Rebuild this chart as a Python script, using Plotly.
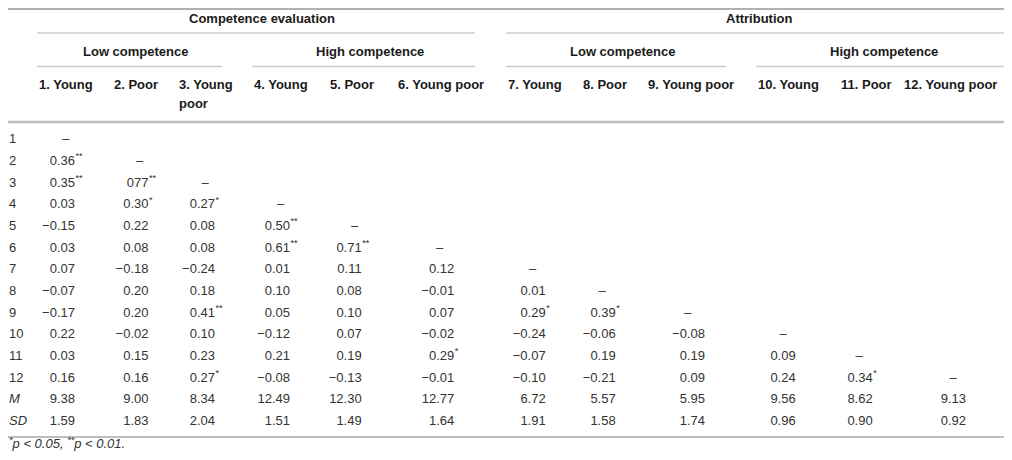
import plotly.graph_objects as go

# table content
row_labels = ["1", "2", "3", "4", "5", "6", "7", "8", "9", "10", "11", "12", "<i>M</i>", "<i>SD</i>"]

col_headers = ["1. Young", "2. Poor", "3. Young\npoor", "4. Young", "5. Poor", "6. Young poor",
               "7. Young", "8. Poor", "9. Young poor", "10. Young", "11. Poor", "12. Young poor"]

groups = ["Competence evaluation", "Attribution"]
subgroups = ["Low competence", "High competence", "Low competence", "High competence"]

corr = [
    ["–"],
    ["0.36**", "–"],
    ["0.35**", "077**", "–"],
    ["0.03", "0.30*", "0.27*", "–"],
    ["−0.15", "0.22", "0.08", "0.50**", "–"],
    ["0.03", "0.08", "0.08", "0.61**", "0.71**", "–"],
    ["0.07", "−0.18", "−0.24", "0.01", "0.11", "0.12", "–"],
    ["−0.07", "0.20", "0.18", "0.10", "0.08", "−0.01", "0.01", "–"],
    ["−0.17", "0.20", "0.41**", "0.05", "0.10", "0.07", "0.29*", "0.39*", "–"],
    ["0.22", "−0.02", "0.10", "−0.12", "0.07", "−0.02", "−0.24", "−0.06", "−0.08", "–"],
    ["0.03", "0.15", "0.23", "0.21", "0.19", "0.29*", "−0.07", "0.19", "0.19", "0.09", "–"],
    ["0.16", "0.16", "0.27*", "−0.08", "−0.13", "−0.01", "−0.10", "−0.21", "0.09", "0.24", "0.34*", "–"],
]
means = ["9.38", "9.00", "8.34", "12.49", "12.30", "12.77", "6.72", "5.57", "5.95", "9.56", "8.62", "9.13"]
sds = ["1.59", "1.83", "2.04", "1.51", "1.49", "1.64", "1.91", "1.58", "1.74", "0.96", "0.90", "0.92"]

footnote = "<i><sup>*</sup>p < 0.05, <sup>**</sup>p < 0.01.</i>"

# layout, in page pixels (page body has an 8px margin, so the figure
# covers 8..1004 x 8..452 and the axes are set so 1 unit = 1 page px)
PAD = 8
W, H = 1012, 460
X0, X1 = PAD, W - PAD
Y0, Y1 = PAD, H - PAD
col_right = [75, 148.5, 215, 290, 361.7, 454.3, 545.7, 615.7, 705, 795.7, 872.7, 966]
col_dash = [65.8, 139.5, 205, 280.5, 354.5, 439.5, 532.7, 602.2, 687.7, 783, 859.2, 953]
col_left = [36.7, 111.7, 176.7, 251.7, 328.3, 395.7, 506, 580.7, 645.7, 756, 839, 902]
group_x = [262, 759]
sub_x = [135, 370, 622, 884]
row_top, row_h = 140, 21.67
txt = "#333333"
FONT = "Liberation Sans"
FS = 13

rows = corr + [means, sds]

num_x, num_y, num_t = [], [], []
star_x, star_y, star_t = [], [], []
dash_x, dash_y = [], []
for i, row in enumerate(rows):
    y = row_top + i * row_h
    for j, cell in enumerate(row):
        if cell == "–":
            dash_x.append(col_dash[j])
            dash_y.append(y)
            continue
        val = cell.rstrip("*")
        stars = cell[len(val):]
        num_x.append(col_right[j])
        num_y.append(y)
        num_t.append(val)
        if stars:
            star_x.append(col_right[j] + 0.5)
            star_y.append(y)
            star_t.append("<sup>" + stars + "</sup>")

body = dict(family=FONT, size=FS, color=txt)

fig = go.Figure()
fig.add_trace(go.Scatter(x=[X0 + 1] * len(row_labels), y=[row_top + i * row_h for i in range(len(row_labels))],
                         text=row_labels, mode="text", textposition="middle right",
                         textfont=body, cliponaxis=False))
fig.add_trace(go.Scatter(x=num_x, y=num_y, text=num_t, mode="text", textposition="middle left",
                         textfont=body, cliponaxis=False))
fig.add_trace(go.Scatter(x=star_x, y=star_y, text=star_t, mode="text", textposition="middle right",
                         textfont=body, cliponaxis=False))
fig.add_trace(go.Scatter(x=dash_x, y=dash_y, text=["–"] * len(dash_x), mode="text",
                         textposition="middle center", textfont=body, cliponaxis=False))

bold = dict(family=FONT, size=FS, color="#1a1a1a")
for name, x in zip(groups, group_x):
    fig.add_annotation(x=x, y=18, text="<b>" + name + "</b>", showarrow=False, font=bold)
for name, x in zip(subgroups, sub_x):
    fig.add_annotation(x=x, y=51.5, text="<b>" + name + "</b>", showarrow=False, font=bold)
for name, x in zip(col_headers, col_left):
    for k, part in enumerate(name.split("\n")):
        fig.add_annotation(x=x, y=84 + k * 19, text="<b>" + part + "</b>", showarrow=False,
                           xanchor="left", font=bold)

fig.add_annotation(x=X0, y=Y1, text=footnote, showarrow=False, xanchor="left", yanchor="bottom",
                   borderpad=0, font=dict(family=FONT, size=FS, color=txt))


# rules
def hline(y, x0, x1, w, c):
    fig.add_shape(type="line", x0=x0, x1=x1, y0=y, y1=y, line=dict(color=c, width=w))


hline(Y0 + 1, X0, X1, 2, "#b0b0b0")
hline(33, 37, 475, 1.5, "#cccccc")
hline(33, 506, X1, 1.5, "#cccccc")
for a, b in [(37, 222), (252, 475), (506, 726), (756, X1)]:
    hline(66.5, a, b, 1.5, "#cccccc")
hline(122, X0, X1, 2.5, "#bdbdbd")
hline(437, X0, X1, 2, "#bdbdbd")

fig.update_layout(width=X1 - X0, height=Y1 - Y0, margin=dict(l=0, r=0, t=0, b=0, pad=0),
                  plot_bgcolor="white", paper_bgcolor="white", showlegend=False,
                  hovermode=False)
fig.update_xaxes(range=[X0, X1], visible=False, fixedrange=True)
fig.update_yaxes(range=[Y1, Y0], visible=False, fixedrange=True)

fig.write_html("out.html")
